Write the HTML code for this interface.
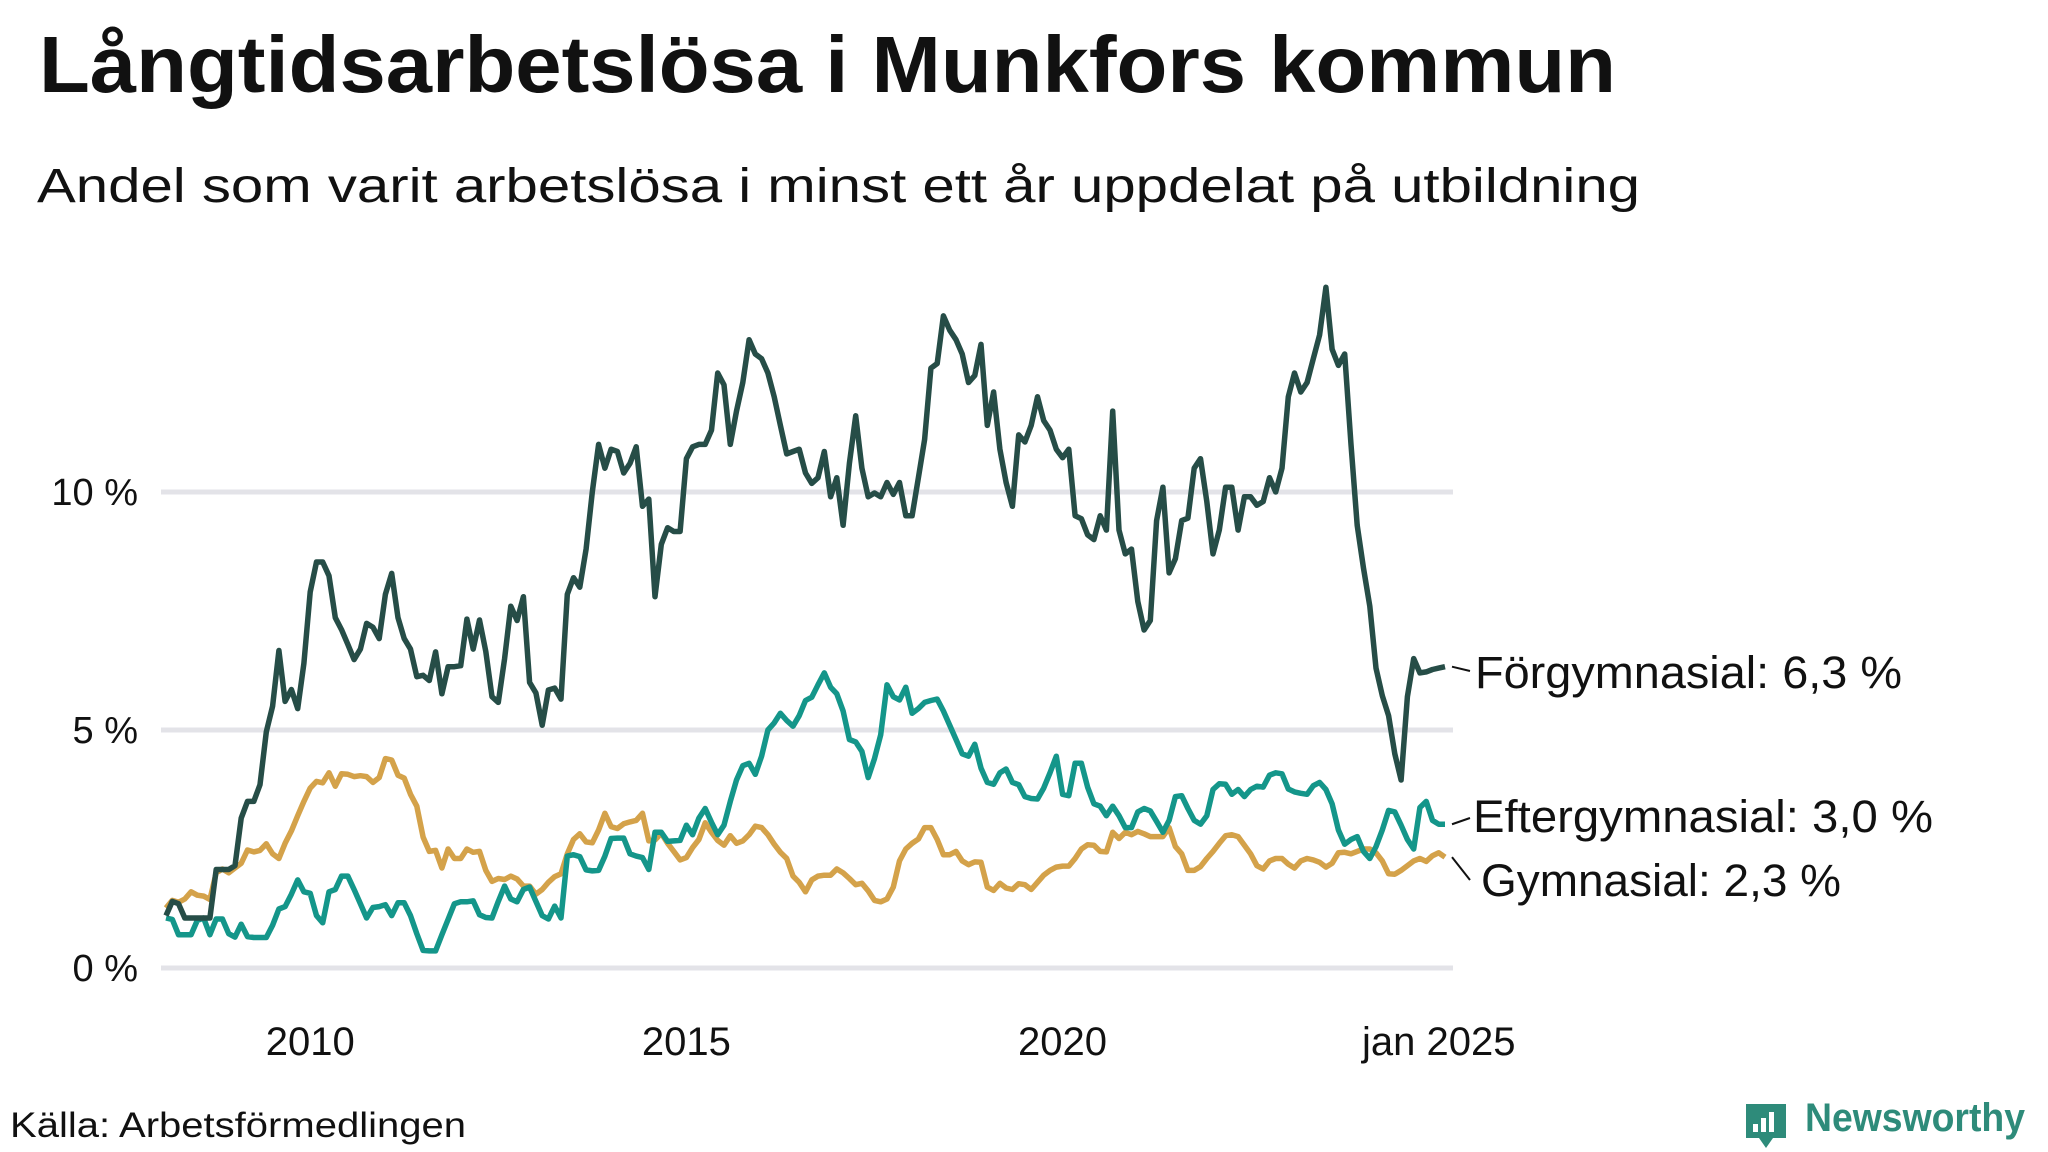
<!DOCTYPE html>
<html><head><meta charset="utf-8"><style>
html,body{margin:0;padding:0;background:#fff;}
svg{display:block;font-family:"Liberation Sans",sans-serif;}
</style></head><body>
<svg id="chart" width="2048" height="1152" viewBox="0 0 2048 1152">
<text x="39" y="92" font-size="80" font-weight="bold" fill="#111" textLength="1577" lengthAdjust="spacingAndGlyphs">Långtidsarbetslösa i Munkfors kommun</text>
<text x="37" y="202" font-size="48" fill="#111" textLength="1603" lengthAdjust="spacingAndGlyphs">Andel som varit arbetslösa i minst ett år uppdelat på utbildning</text>
<g id="grid"></g>
<g id="yticks"></g>
<g id="xticks"></g>
<g id="lines"></g>
<g id="labels"></g>
<text x="10" y="1137" font-size="35" fill="#111" textLength="456" lengthAdjust="spacingAndGlyphs">Källa: Arbetsförmedlingen</text>
<g>
<path d="M1746 1104 h40 v34 h-13 l-7 10 l-7 -10 h-13 z" fill="#2e8b7a"/>
<rect x="1753" y="1124" width="5" height="8" fill="#fff"/>
<rect x="1761" y="1118" width="5" height="14" fill="#fff"/>
<rect x="1769" y="1112" width="5" height="20" fill="#fff"/>
<text x="1805" y="1131" font-size="40" font-weight="bold" fill="#2e8b7a" textLength="220" lengthAdjust="spacingAndGlyphs">Newsworthy</text>
</g>
</svg>
<script>
const forgymnasial=[1.1,1.4,1.35,1.05,1.05,1.05,1.05,1.05,2.07,2.07,
2.07,2.15,3.15,3.5,3.5,3.85,4.96,5.5,6.67,5.6,
5.85,5.45,6.4,7.9,8.53,8.53,8.24,7.36,7.11,6.8,
6.48,6.7,7.24,7.16,6.92,7.85,8.29,7.36,6.92,6.7,
6.12,6.15,6.04,6.64,5.76,6.33,6.33,6.35,7.33,6.7,
7.31,6.65,5.7,5.58,6.5,7.6,7.3,7.8,6.0,5.78,
5.1,5.84,5.88,5.65,7.85,8.2,8.0,8.8,10.0,11.0,
10.5,10.9,10.85,10.4,10.6,10.95,9.7,9.85,7.8,8.9,
9.25,9.17,9.17,10.7,10.95,11.0,11.0,11.3,12.5,12.25,
11.0,11.7,12.3,13.2,12.9,12.8,12.5,12.0,11.4,10.8,
10.85,10.9,10.4,10.18,10.3,10.85,9.9,10.3,9.3,10.6,
11.6,10.5,9.9,9.98,9.9,10.2,9.95,10.2,9.5,9.5,
10.3,11.1,12.6,12.7,13.7,13.4,13.2,12.9,12.3,12.45,
13.1,11.4,12.1,10.9,10.2,9.7,11.2,11.05,11.4,12.0,
11.5,11.3,10.9,10.72,10.9,9.5,9.44,9.1,9.0,9.5,
9.2,11.7,9.2,8.7,8.8,7.7,7.1,7.3,9.4,10.1,
8.3,8.6,9.4,9.45,10.5,10.7,9.8,8.7,9.2,10.1,
10.1,9.2,9.9,9.9,9.72,9.8,10.3,10.0,10.5,12.0,
12.5,12.1,12.3,12.8,13.3,14.3,13.0,12.66,12.9,11.0,
9.3,8.4,7.6,6.3,5.72,5.3,4.5,3.95,5.7,6.5,
6.2,6.22,6.27,6.3,6.33];
const eftergymnasial=[1.05,1.02,0.7,0.7,0.7,1.0,1.05,0.7,1.03,1.03,
0.72,0.65,0.92,0.66,0.64,0.64,0.64,0.9,1.24,1.29,
1.55,1.85,1.6,1.57,1.1,0.95,1.6,1.65,1.93,1.93,
1.65,1.35,1.05,1.27,1.29,1.33,1.1,1.37,1.37,1.1,
0.72,0.37,0.36,0.36,0.7,1.02,1.35,1.39,1.39,1.41,
1.12,1.06,1.05,1.4,1.72,1.45,1.39,1.65,1.7,1.4,
1.1,1.03,1.3,1.05,2.35,2.38,2.34,2.06,2.04,2.05,
2.35,2.72,2.73,2.73,2.4,2.35,2.32,2.07,2.85,2.85,
2.66,2.67,2.68,3.0,2.8,3.15,3.35,3.06,2.8,3.0,
3.5,3.95,4.25,4.3,4.07,4.45,5.0,5.15,5.35,5.2,
5.08,5.3,5.62,5.69,5.95,6.2,5.9,5.76,5.4,4.8,
4.75,4.55,4.0,4.4,4.9,5.95,5.7,5.63,5.9,5.35,
5.45,5.58,5.62,5.65,5.4,5.1,4.8,4.5,4.45,4.7,
4.2,3.9,3.86,4.1,4.18,3.9,3.85,3.6,3.56,3.55,
3.78,4.1,4.45,3.65,3.62,4.3,4.3,3.8,3.45,3.4,
3.2,3.4,3.2,2.95,2.95,3.28,3.35,3.3,3.08,2.85,
3.1,3.6,3.62,3.35,3.1,3.02,3.2,3.75,3.87,3.86,
3.65,3.75,3.6,3.75,3.82,3.8,4.05,4.1,4.08,3.76,
3.7,3.67,3.65,3.83,3.9,3.75,3.45,2.9,2.6,2.7,
2.76,2.45,2.3,2.55,2.9,3.31,3.28,3.0,2.7,2.5,
3.37,3.5,3.1,3.02,3.02];
const gymnasial=[1.26,1.42,1.38,1.45,1.6,1.53,1.51,1.44,2.0,2.08,
2.0,2.1,2.2,2.48,2.44,2.47,2.61,2.4,2.3,2.62,
2.88,3.2,3.5,3.78,3.92,3.89,4.1,3.82,4.08,4.07,
4.02,4.04,4.02,3.9,4.0,4.4,4.37,4.05,3.99,3.65,
3.4,2.75,2.45,2.47,2.1,2.5,2.3,2.3,2.5,2.43,
2.45,2.05,1.82,1.88,1.86,1.93,1.87,1.72,1.72,1.55,
1.65,1.8,1.92,1.98,2.4,2.7,2.82,2.65,2.63,2.9,
3.25,2.97,2.93,3.03,3.07,3.1,3.25,2.67,2.69,2.83,
2.62,2.45,2.27,2.32,2.53,2.7,3.05,2.85,2.68,2.58,
2.78,2.62,2.67,2.8,2.98,2.95,2.8,2.6,2.43,2.3,
1.93,1.8,1.6,1.85,1.93,1.95,1.95,2.08,2.0,1.88,
1.75,1.78,1.62,1.42,1.39,1.45,1.7,2.25,2.5,2.62,
2.71,2.95,2.95,2.7,2.38,2.38,2.45,2.25,2.17,2.23,
2.22,1.7,1.63,1.78,1.68,1.65,1.77,1.75,1.65,1.8,
1.95,2.05,2.12,2.14,2.14,2.3,2.5,2.59,2.58,2.45,
2.44,2.85,2.72,2.85,2.8,2.87,2.82,2.76,2.76,2.76,
2.95,2.55,2.4,2.05,2.05,2.13,2.3,2.45,2.62,2.78,
2.8,2.76,2.58,2.4,2.15,2.08,2.25,2.3,2.3,2.18,
2.1,2.25,2.3,2.27,2.22,2.12,2.2,2.42,2.43,2.4,
2.45,2.5,2.5,2.42,2.25,1.98,1.97,2.05,2.15,2.25,
2.3,2.24,2.36,2.42,2.33];
const yTicks=[0,5,10];
const yTickLabels=["0 %","5 %","10 %"];
const xTickMonths=[23,83,143,203];
const xTickLabels=["2010","2015","2020","jan 2025"];
const seriesNames=["Förgymnasial","Eftergymnasial","Gymnasial"];
const seriesLabels=["Förgymnasial: 6,3 %","Eftergymnasial: 3,0 %","Gymnasial: 2,3 %"];

const NS="http://www.w3.org/2000/svg";
const X0=166,X1=1445,Y0=968,PX=47.6;
const n=forgymnasial.length;
function xs(i){return X0+i*(X1-X0)/(n-1);}
function ys(v){return Y0-v*PX;}
function mk(tag,attrs,parent){const e=document.createElementNS(NS,tag);for(const k in attrs)e.setAttribute(k,attrs[k]);parent.appendChild(e);return e;}
const grid=document.getElementById('grid'),yt=document.getElementById('yticks'),xt=document.getElementById('xticks'),lines=document.getElementById('lines'),labels=document.getElementById('labels');
yTicks.forEach((v,k)=>{
 const l=mk('line',{x1:161,x2:1453,y1:ys(v),y2:ys(v),stroke:'#e3e3e8','stroke-width':5},grid);
 
 
 const t=mk('text',{x:138,y:ys(v)+13,'font-size':38,fill:'#111','text-anchor':'end'},yt);
 t.textContent=yTickLabels[k];
 
 
});
xTickMonths.forEach((m,k)=>{
 const t=mk('text',{x:xs(m),y:1055,'font-size':40,fill:'#111','text-anchor':'middle'},xt);
 t.textContent=xTickLabels[k];
 
 
});
const data=[forgymnasial,eftergymnasial,gymnasial];
const colors=["#264d47","#14968a","#d4a24a"];
const order=[2,1,0];
order.forEach(s=>{
 const d=data[s].map((v,i)=>(i?'L':'M')+xs(i).toFixed(1)+' '+ys(v).toFixed(1)).join(' ');
 const p=mk('path',{d:d,fill:'none',stroke:colors[s],'stroke-width':5.5,'stroke-linejoin':'round'},lines);
 
 
});
const labY=[688,832,896],labX=[1475,1473,1481],labW=[427,460,360],leadEnd=[671,818,880];
data.forEach((arr,s)=>{
 const ly=ys(arr[n-1]);
 const ll=mk('line',{x1:1452,y1:ly,x2:1470,y2:leadEnd[s],stroke:'#111','stroke-width':2},labels);
 
 
 const t=mk('text',{x:labX[s],y:labY[s],'font-size':45,fill:'#111',textLength:labW[s],lengthAdjust:'spacingAndGlyphs'},labels);
 t.textContent=seriesLabels[s];
 
 
});
</script>
</body></html>
